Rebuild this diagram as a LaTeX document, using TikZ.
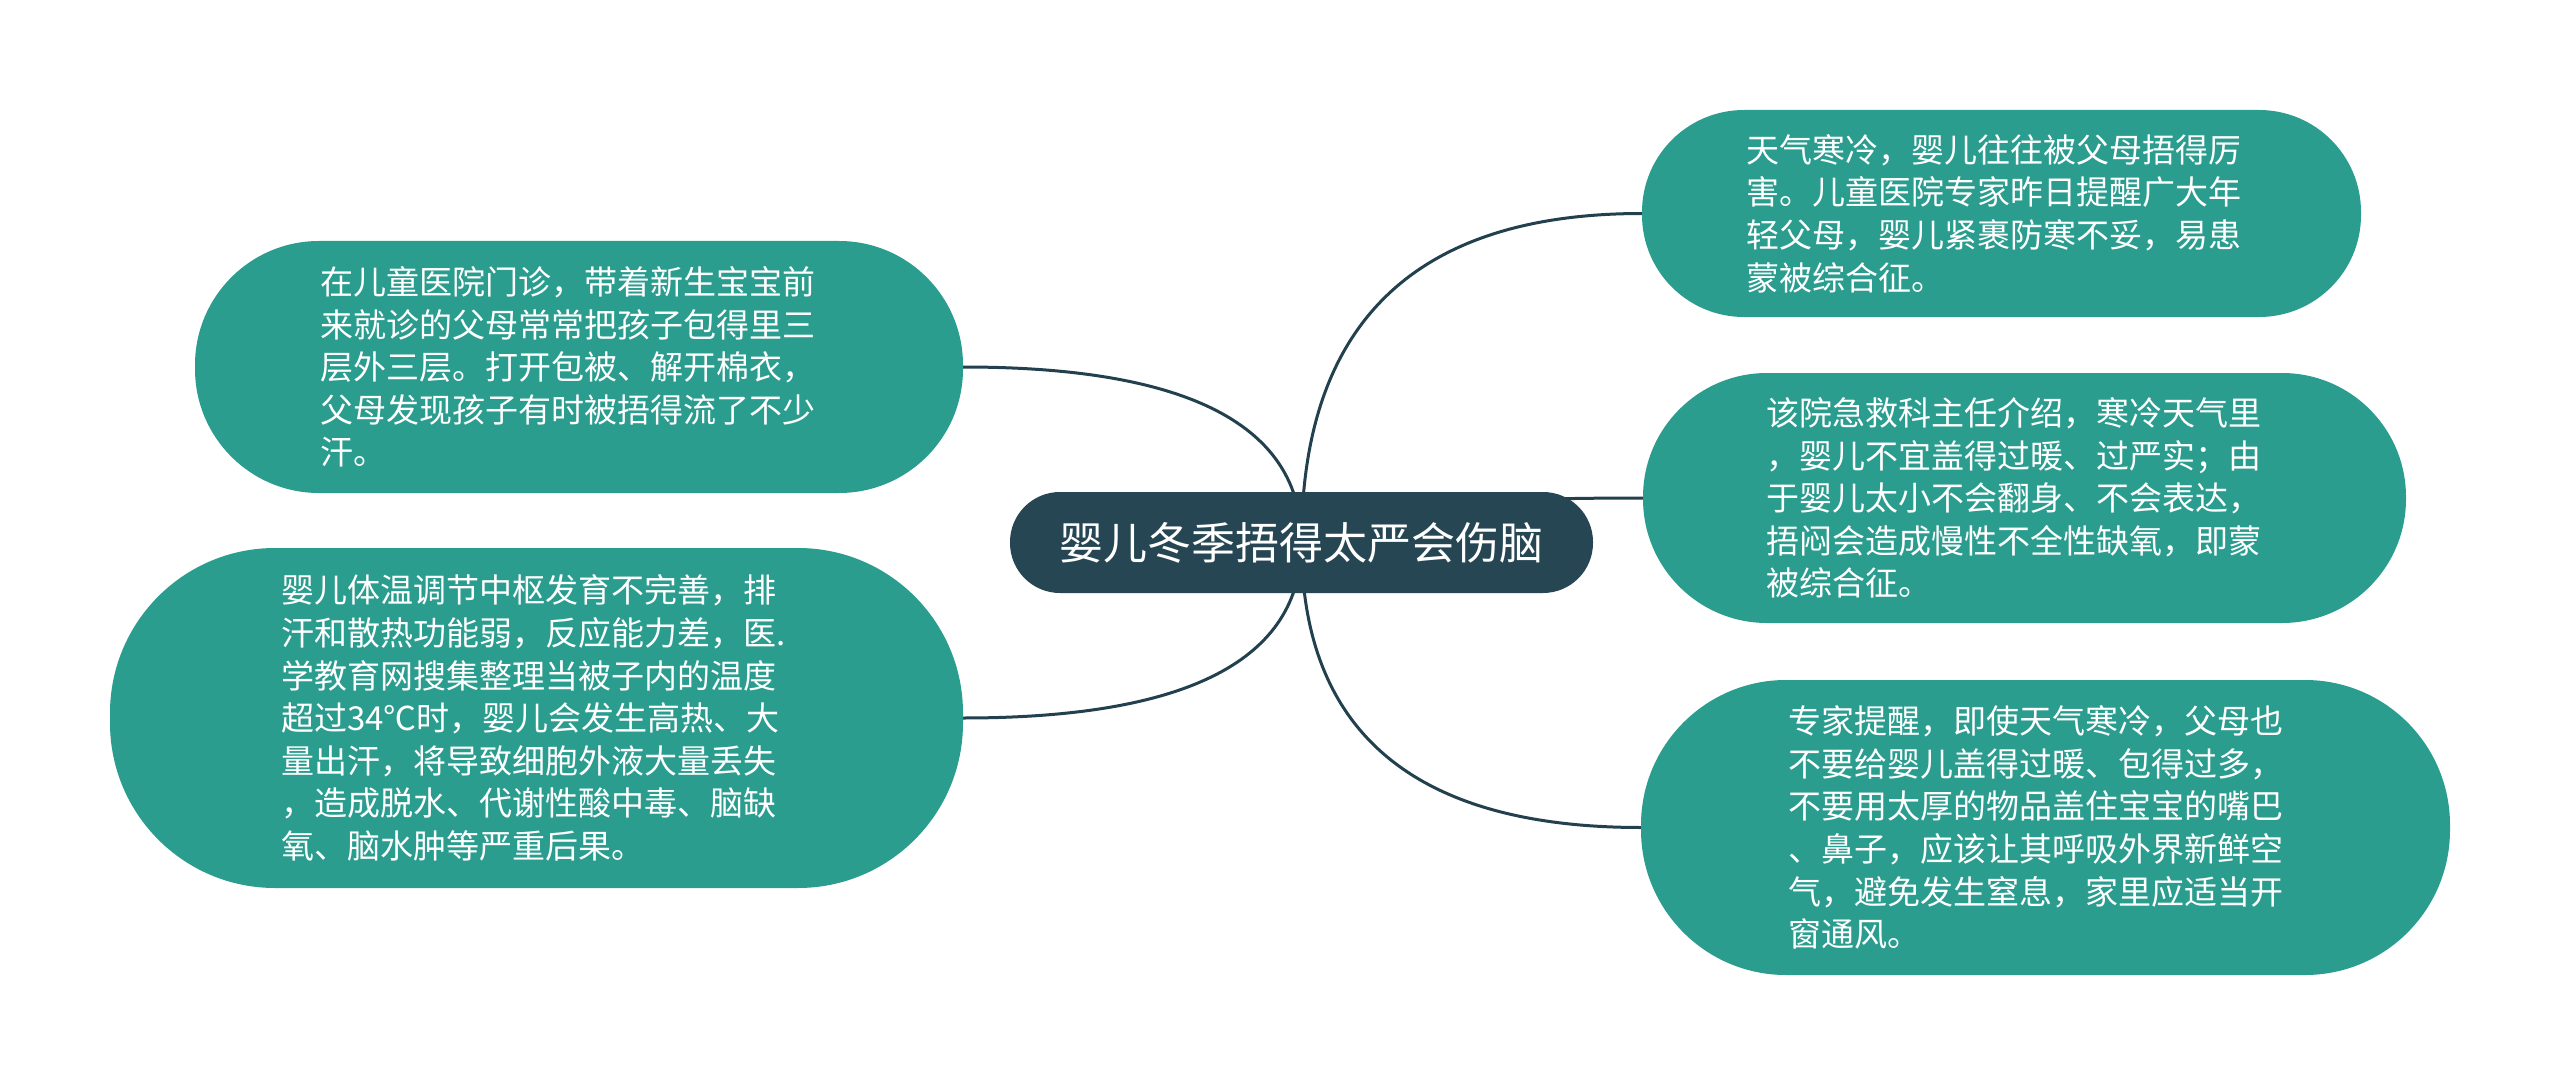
\documentclass[tikz,border=0pt]{standalone}
\usepackage{fontspec}
\setmainfont{Noto Sans CJK SC}
\usetikzlibrary{backgrounds,calc}
\definecolor{boxgreen}{HTML}{2A9D8F}
\definecolor{rootblue}{HTML}{264653}
\definecolor{linecol}{HTML}{22404D}
\begin{document}
\begin{tikzpicture}[x=1pt,y=-1pt,
  leaf/.style={fill=boxgreen, text=white, inner sep=0pt, align=left,
    font=\fontsize{33}{42.6}\selectfont},
  root/.style={fill=rootblue, text=white, inner sep=0pt,
    font=\fontsize{44}{52}\selectfont},
  link/.style={draw=linecol, line width=3pt,
    to path={.. controls ($(\tikztostart)!2/3!(\tikztostart |- \tikztotarget)$)
      and ($(\tikztotarget)!2/3!(\tikztostart |- \tikztotarget)$) .. (\tikztotarget)}}]
\begin{pgfonlayer}{background}
\fill[white] (0,0) rectangle (2560,1086);
\end{pgfonlayer}
\useasboundingbox (0,0) rectangle (2560,1086);

\node[root, minimum width=583pt, minimum height=101pt, rounded corners=50pt] (c) at (1301.5,542.5) {婴儿冬季捂得太严会伤脑};

\node[leaf, text width=517pt, minimum width=768pt, minimum height=252pt, rounded corners=124pt] (l1) at (579,367)
  {在儿童医院门诊，带着新生宝宝前\\来就诊的父母常常把孩子包得里三\\层外三层。打开包被、解开棉衣，\\父母发现孩子有时被捂得流了不少\\汗。};

\node[leaf, text width=511pt, minimum width=853pt, minimum height=340pt, rounded corners=165pt] (l2) at (536.5,718)
  {婴儿体温调节中枢发育不完善，排\\汗和散热功能弱，反应能力差，医.\\学教育网搜集整理当被子内的温度\\超过34℃时，婴儿会发生高热、大\\量出汗，将导致细胞外液大量丢失\\，造成脱水、代谢性酸中毒、脑缺\\氧、脑水肿等严重后果。};

\node[leaf, text width=511pt, minimum width=719pt, minimum height=207pt, rounded corners=102pt] (r1) at (2001.5,213.5)
  {天气寒冷，婴儿往往被父母捂得厉\\害。儿童医院专家昨日提醒广大年\\轻父母，婴儿紧裹防寒不妥，易患\\蒙被综合征。};

\node[leaf, text width=517pt, minimum width=763pt, minimum height=250pt, rounded corners=124pt] (r2) at (2024.5,498)
  {该院急救科主任介绍，寒冷天气里\\，婴儿不宜盖得过暖、过严实；由\\于婴儿太小不会翻身、不会表达，\\捂闷会造成慢性不全性缺氧，即蒙\\被综合征。};

\node[leaf, text width=515pt, minimum width=809pt, minimum height=295pt, rounded corners=145pt] (r3) at (2045.5,827.5)
  {专家提醒，即使天气寒冷，父母也\\不要给婴儿盖得过暖、包得过多，\\不要用太厚的物品盖住宝宝的嘴巴\\、鼻子，应该让其呼吸外界新鲜空\\气，避免发生窒息，家里应适当开\\窗通风。};

\begin{pgfonlayer}{background}
\draw[link] (c.center) to (l1.east);
\draw[link] (c.center) to (l2.east);
\draw[link] (c.center) to (r1.west);
\draw[link] (c.center) to (r2.west);
\draw[link] (c.center) to (r3.west);
\end{pgfonlayer}
\end{tikzpicture}
\end{document}
